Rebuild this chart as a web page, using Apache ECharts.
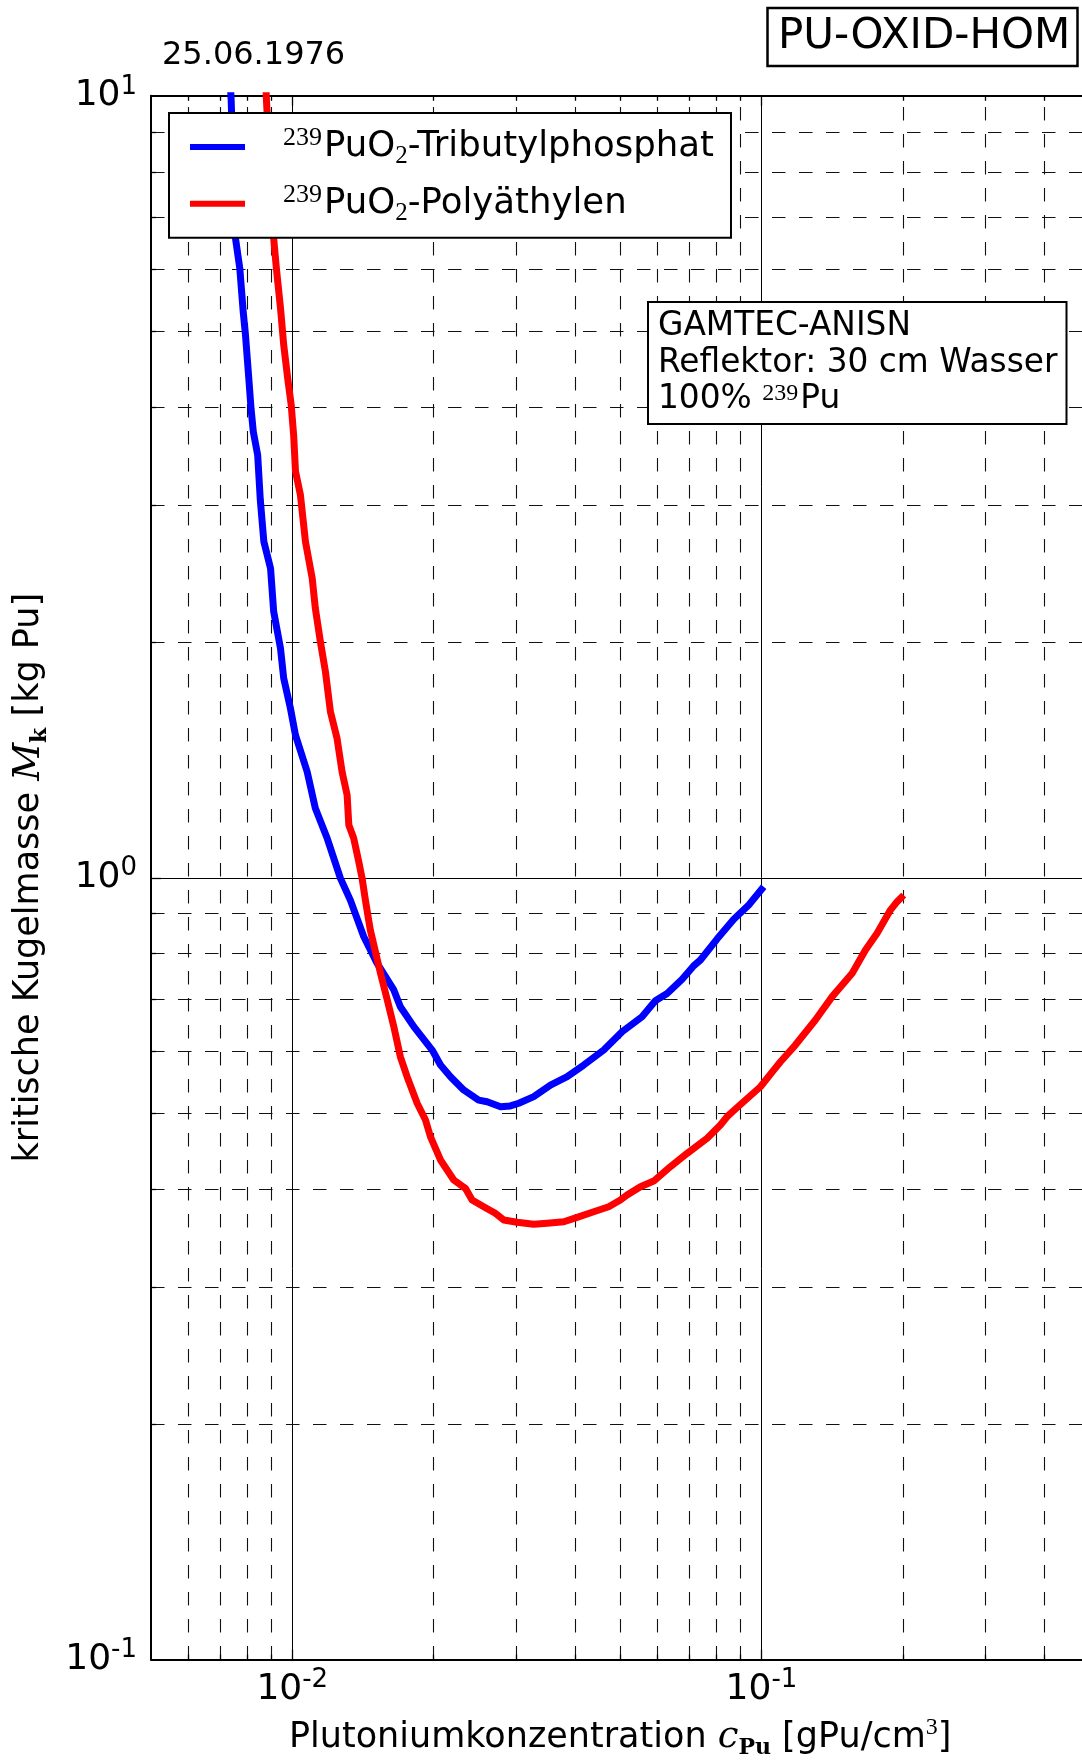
<!DOCTYPE html>
<html><head><meta charset="utf-8">
<script src="https://cdn.jsdelivr.net/npm/echarts@6/dist/echarts.min.js"></script>
<style>html,body{margin:0;padding:0;background:#fff}#c{width:1082px;height:1760px}</style>
</head><body><div id="c"></div><script>
// ---- data ----
const tbpConc = [0.00733, 0.00741, 0.00757, 0.00773, 0.00786, 0.00795, 0.00808, 0.00817, 0.00826, 0.00844, 0.00855, 0.00870, 0.00899, 0.00913, 0.00944, 0.00959, 0.00991, 0.01016, 0.01076, 0.0112, 0.01187, 0.01267, 0.0133, 0.0142, 0.01517, 0.01646, 0.0170, 0.01816, 0.01987, 0.0207, 0.02174, 0.02319, 0.02496, 0.02602, 0.02779, 0.02917, 0.0304, 0.03271, 0.03551, 0.03855, 0.04181, 0.04612, 0.05047, 0.05566, 0.05942, 0.06295, 0.06776, 0.07174, 0.07413, 0.08041, 0.0873, 0.09396, 0.1011];
const tbpMass = [11.2, 9.88, 6.57, 6.02, 5.30, 4.94, 4.35, 3.98, 3.72, 3.47, 3.04, 2.69, 2.487, 2.189, 1.965, 1.799, 1.647, 1.522, 1.366, 1.227, 1.123, 0.998, 0.936, 0.841, 0.777, 0.7185, 0.684, 0.645, 0.602, 0.576, 0.5566, 0.5353, 0.5195, 0.517, 0.5095, 0.5106, 0.5147, 0.5248, 0.543, 0.5566, 0.576, 0.602, 0.6353, 0.664, 0.6961, 0.7112, 0.7416, 0.7716, 0.7847, 0.8346, 0.885, 0.923, 0.9739];
const peConc = [0.00874, 0.00881, 0.00913, 0.00925, 0.00944, 0.00959, 0.00978, 0.00995, 0.01007, 0.01016, 0.01041, 0.01067, 0.01103, 0.0112, 0.01148, 0.01177, 0.01206, 0.01246, 0.01277, 0.01309, 0.0132, 0.01352, 0.01386, 0.01409, 0.01432, 0.01467, 0.01542, 0.01594, 0.01646, 0.0170, 0.01757, 0.01846, 0.01923, 0.0197, 0.0207, 0.02209, 0.02339, 0.02417, 0.02559, 0.02709, 0.02824, 0.03015, 0.03271, 0.03493, 0.03791, 0.04048, 0.04391, 0.04726, 0.05005, 0.05172, 0.05522, 0.05894, 0.06397, 0.06946, 0.07662, 0.08176, 0.08449, 0.08875, 0.09952, 0.1062, 0.1098, 0.1181, 0.1303, 0.1415, 0.1561, 0.1666, 0.1764, 0.1883, 0.1946, 0.201];
const peMass = [11.2, 9.88, 6.57, 6.02, 5.35, 4.80, 4.35, 4.02, 3.68, 3.31, 3.086, 2.69, 2.415, 2.211, 2.004, 1.834, 1.631, 1.507, 1.366, 1.276, 1.168, 1.123, 1.048, 0.998, 0.936, 0.857, 0.7547, 0.6978, 0.645, 0.5902, 0.5566, 0.5147, 0.4899, 0.4665, 0.4355, 0.4106, 0.4006, 0.387, 0.3795, 0.3722, 0.365, 0.3625, 0.3603, 0.3614, 0.3631, 0.3678, 0.3739, 0.3795, 0.387, 0.3928, 0.4025, 0.4093, 0.427, 0.4441, 0.4642, 0.4827, 0.4947, 0.5083, 0.5403, 0.5675, 0.5816, 0.6109, 0.6577, 0.7045, 0.7547, 0.8084, 0.849, 0.909, 0.9318, 0.95];

const xRange = [0.005, 0.5];
const yRange = [0.1, 10];
const xMajor = [0.01, 0.1];
const xMinor = [0.006, 0.007, 0.008, 0.009, 0.02, 0.03, 0.04, 0.05, 0.06, 0.07, 0.08, 0.09, 0.2, 0.3, 0.4];
const yMajor = [1];
const yMinor = [0.2, 0.3, 0.4, 0.5, 0.6, 0.7, 0.8, 0.9, 2, 3, 4, 5, 6, 7, 8, 9];
const xTickLabels = {'0.01': '-2', '0.1': '-1'};
const yTickLabels = {'0.1': '-1', '1': '0', '10': '1'};

const seriesNames = ['TBP', 'PE'];
const legendTexts = {
  TBP: '{sup|239}{n|PuO}{sub|2}{n|-Tributylphosphat}',
  PE: '{sup|239}{n|PuO}{sub|2}{n|-Polyäthylen}'
};
const xName = '{n|Plutoniumkonzentration }{m|c}{sb|Pu}{n| [gPu/cm}{sp|3}{n|]}';
const yName = '{n|kritische Kugelmasse }{m|M}{sb|k}{n| [kg Pu]}';
const dateText = '25.06.1976';
const titleText = 'PU-OXID-HOM';
const noteText = '{a|GAMTEC-ANISN}\n{a|Reflektor: 30 cm Wasser}\n{a|100% }{s|239}{a|Pu}';

const SANS = 'DejaVu Sans';
const SERIF = 'DejaVu Serif';
const SERIF2 = 'Liberation Serif';

function findExp(map, v) {
  for (const k in map) { if (Math.abs(Math.log10(v) - Math.log10(+k)) < 1e-6) return map[k]; }
  return null;
}
const tickRich = {
  b: {fontSize: 36, fontFamily: SANS, color: '#000', lineHeight: 44},
  s: {fontSize: 26, fontFamily: SANS, color: '#000', verticalAlign: 'top', lineHeight: 15}
};
const nameRich = {
  n: {fontSize: 35, fontFamily: SANS, color: '#000', lineHeight: 44},
  m: {fontSize: 37, fontFamily: SERIF, fontStyle: 'italic', color: '#000', lineHeight: 44},
  sb: {fontSize: 22, fontFamily: SERIF, fontWeight: 'bold', color: '#000', verticalAlign: 'bottom', lineHeight: 14},
  sp: {fontSize: 24, fontFamily: SERIF2, color: '#000', verticalAlign: 'top', lineHeight: 16}
};

function gridRenderer(vertical) {
  return function (params, api) {
    const cs = params.coordSys;
    const major = api.value(2) === 1;
    const p = api.coord([api.value(0), api.value(1)]);
    const gl = {stroke: major ? '#000' : '#111', lineWidth: major ? 1 : 1.1, lineDash: major ? null : [13.5, 13.5]};
    const tk = {stroke: '#000', lineWidth: 1.3};
    const L = major ? 10 : 5;
    const ch = [];
    if (vertical) {
      const x = Math.round(p[0]) + 0.5;
      const yb = cs.y + cs.height, yt = cs.y;
      ch.push({type: 'line', shape: {x1: x, y1: yb, x2: x, y2: yt}, style: gl});
      ch.push({type: 'line', shape: {x1: x, y1: yb, x2: x, y2: yb - L}, style: tk});
      ch.push({type: 'line', shape: {x1: x, y1: yt, x2: x, y2: yt + L}, style: tk});
    } else {
      const y = Math.round(p[1]) + 0.5;
      const xl = cs.x, xr = cs.x + cs.width;
      ch.push({type: 'line', shape: {x1: xl, y1: y, x2: xr, y2: y}, style: gl});
      ch.push({type: 'line', shape: {x1: xl, y1: y, x2: xl + L, y2: y}, style: tk});
    }
    return {type: 'group', children: ch};
  };
}

const chart = echarts.init(document.getElementById('c'), null, {renderer: 'canvas'});
chart.setOption({
  animation: false,
  backgroundColor: '#fff',
  grid: {left: 151, top: 95.8, right: -7.4, bottom: 100.4, containLabel: false, outerBoundsMode: 'none'},
  xAxis: [{
    type: 'log', logBase: 10, min: xRange[0], max: xRange[1], position: 'bottom',
    axisLine: {onZero: false, lineStyle: {color: '#000', width: 2}},
    axisTick: {show: false}, splitLine: {show: false},
    axisLabel: {margin: 8, formatter: v => { const e = findExp(xTickLabels, v); return e === null ? '' : '{b|10}{s|' + e + '}'; }, rich: tickRich},
    name: xName, nameLocation: 'middle', nameGap: 56, nameTextStyle: {rich: nameRich}
  }, {
    type: 'log', logBase: 10, min: xRange[0], max: xRange[1], position: 'top',
    axisLine: {onZero: false, lineStyle: {color: '#000', width: 2}},
    axisTick: {show: false}, splitLine: {show: false}, axisLabel: {show: false}
  }],
  yAxis: [{
    type: 'log', logBase: 10, min: yRange[0], max: yRange[1],
    axisLine: {onZero: false, lineStyle: {color: '#000', width: 2}},
    axisTick: {show: false}, splitLine: {show: false},
    axisLabel: {margin: 14, formatter: v => { const e = findExp(yTickLabels, v); return e === null ? '' : '{b|10}{s|' + e + '}'; }, rich: tickRich},
    name: yName, nameLocation: 'middle', nameGap: 100, nameRotate: 90, nameTextStyle: {rich: nameRich}
  }],
  legend: {
    orient: 'vertical', left: 169, top: 113, selectedMode: false,
    padding: [12, 17, 12, 21], itemGap: 12.7, itemWidth: 55, itemHeight: 6, icon: 'rect',
    borderColor: '#000', borderWidth: 2, backgroundColor: '#fff',
    data: seriesNames,
    formatter: n => legendTexts[n],
    textStyle: {rich: {
      n: {fontSize: 35.5, fontFamily: SANS, color: '#000', lineHeight: 44},
      sup: {fontSize: 26, fontFamily: SERIF2, color: '#000', verticalAlign: 'top', lineHeight: 16, padding: [0, 2, 0, 33]},
      sub: {fontSize: 25, fontFamily: SERIF2, color: '#000', verticalAlign: 'bottom', lineHeight: 14}
    }}
  },
  series: [
    {type: 'custom', name: 'vgrid', silent: true, z: 1, renderItem: gridRenderer(true),
     data: xMajor.map(v => [v, 1, 1]).concat(xMinor.map(v => [v, 1, 0]))},
    {type: 'custom', name: 'hgrid', silent: true, z: 1, renderItem: gridRenderer(false),
     data: yMajor.map(v => [0.01, v, 1]).concat(yMinor.map(v => [0.01, v, 0]))},
    {type: 'line', name: 'TBP', z: 3, data: tbpConc.map((c, i) => [c, tbpMass[i]]),
     symbol: 'none', clip: true, color: '#0000ff', lineStyle: {color: '#0000ff', width: 7, join: 'round'}},
    {type: 'line', name: 'PE', z: 3, data: peConc.map((c, i) => [c, peMass[i]]),
     symbol: 'none', clip: true, color: '#ff0000', lineStyle: {color: '#ff0000', width: 7, join: 'round'}}
  ],
  graphic: [
    {type: 'text', z: 100, x: 162, y: 56, style: {text: dateText, fontSize: 32, fontFamily: SANS, fill: '#000', verticalAlign: 'middle'}},
    {type: 'rect', z: 100, shape: {x: 767.5, y: 8, width: 310, height: 58}, style: {fill: '#fff', stroke: '#000', lineWidth: 2.5}},
    {type: 'text', z: 101, x: 778, y: 37, style: {text: titleText, fontSize: 42, fontFamily: SANS, fill: '#000', verticalAlign: 'middle'}},
    {type: 'rect', z: 100, shape: {x: 648, y: 302, width: 418.5, height: 122}, style: {fill: '#fff', stroke: '#000', lineWidth: 2}},
    {type: 'text', z: 101, x: 658, y: 308, style: {text: noteText, verticalAlign: 'top', rich: {
      a: {fontSize: 32.8, fontFamily: SANS, fill: '#000', lineHeight: 36.7},
      s: {fontSize: 24, fontFamily: SERIF2, fill: '#000', verticalAlign: 'top', lineHeight: 14, padding: [0, 2, 0, 0]}
    }}}
  ]
});
</script></body></html>
